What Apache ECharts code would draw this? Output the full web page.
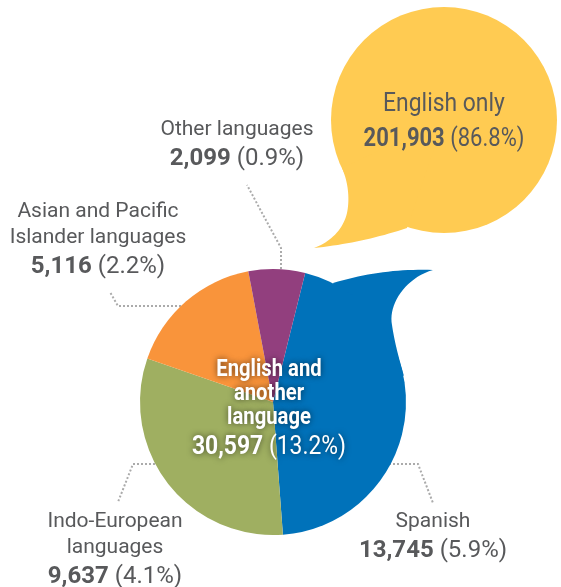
<!DOCTYPE html>
<html><head><meta charset="utf-8">
<script src="https://cdn.jsdelivr.net/npm/echarts@6/dist/echarts.min.js"></script>
<style>html,body{margin:0;padding:0;background:#fff}#c{width:561px;height:587px}</style>
</head><body><div id="c"></div>
<script>
// ---- data ----
const categories = ['Spanish', 'Indo-European\nlanguages', 'Asian and Pacific\nIslander languages', 'Other languages'];
const values = [13745, 9637, 5116, 2099];
const englishOnlyLabel = 'English only';
const englishOnlyValue = 201903;
const otherGroupLabel = ['English and', 'another', 'language'];

// ---- styles / layout ----
const colors = ['#0072BA', '#9FAF61', '#F9943B', '#923F7E'];
const yellow = '#FFCB52';
const textGray = '#58595b';
const FONT = 'Roboto';
const labelBoxes = [
  {x: 433, y: 537.5, line: [[385, 464], [418, 464], [433, 503]]},
  {x: 115, y: 550.5, line: [[167, 464], [133, 464], [118, 502]]},
  {x: 98,  y: 240.5, line: [[193, 306], [118, 306], [110, 292]]},
  {x: 237, y: 145.5, line: [[281, 277], [281, 248], [247, 185]]}
];

const groupTotal = values.reduce((a, b) => a + b, 0);
const grandTotal = groupTotal + englishOnlyValue;
const fmt = v => v.toLocaleString('en-US');
const pct = v => (v / grandTotal * 100).toFixed(1) + '%';

function cubic(p0, p1, p2, p3, n) {
  const pts = [];
  for (let i = 0; i <= n; i++) {
    const t = i / n, u = 1 - t;
    pts.push([
      u*u*u*p0[0] + 3*u*u*t*p1[0] + 3*u*t*t*p2[0] + t*t*t*p3[0],
      u*u*u*p0[1] + 3*u*u*t*p1[1] + 3*u*t*t*p2[1] + t*t*t*p3[1]
    ]);
  }
  return pts;
}
function quad(p0, p1, p2, n) {
  const pts = [];
  for (let i = 0; i <= n; i++) {
    const t = i / n, u = 1 - t;
    pts.push([u*u*p0[0] + 2*u*t*p1[0] + t*t*p2[0], u*u*p0[1] + 2*u*t*p1[1] + t*t*p2[1]]);
  }
  return pts;
}
const blueTail = [].concat(
  quad([333, 283], [383, 268], [433, 270], 20),
  cubic([433, 270], [405, 278], [388, 305], [392, 325], 20),
  cubic([392, 325], [395, 345], [400, 362], [404, 376], 20),
  [[350, 335]]
);
const yellowTail = [].concat(
  cubic([342, 168], [348, 182], [350, 198], [347, 213], 20),
  cubic([347, 213], [343, 230], [330, 242], [314, 248], 20),
  quad([314, 248], [362, 243], [407, 228], 20),
  [[444, 120]]
);

const chart = echarts.init(document.getElementById('c'), null, {renderer: 'canvas'});
const shadow = {textShadowColor: 'rgba(0,0,0,0.6)', textShadowBlur: 6};
chart.setOption({
  animation: false,
  graphic: {elements: [
    {type: 'circle', z: 0, silent: true, shape: {cx: 444, cy: 120, r: 113}, style: {fill: yellow}},
    {type: 'polygon', z: 0, silent: true, shape: {points: yellowTail}, style: {fill: yellow}},
    {type: 'polygon', z: 0, silent: true, shape: {points: blueTail}, style: {fill: colors[0]}},
    {type: 'text', z: 100, x: 444, y: 122, scaleX: 0.88, silent: true, style: {
      text: '{a|' + englishOnlyLabel + '}\n{b|' + fmt(englishOnlyValue) + '}{a2| (' + pct(englishOnlyValue) + ')}',
      align: 'center', verticalAlign: 'middle', fill: textGray,
      rich: {
        a: {fontSize: 26, fontFamily: FONT, fill: textGray, lineHeight: 35},
        a2: {fontSize: 25, fontFamily: FONT, fill: textGray, lineHeight: 35},
        b: {fontSize: 25, fontFamily: FONT, fontWeight: 'bold', fill: textGray, lineHeight: 35}
      }
    }},
    {type: 'text', z: 100, x: 269, y: 358, scaleX: 0.88, silent: true, style: Object.assign({
      text: otherGroupLabel.map(s => '{h|' + s + '}').join('\n') + '\n{b|' + fmt(groupTotal) + '}{p| (' + pct(groupTotal) + ')}',
      align: 'center', verticalAlign: 'top', fill: '#fff',
      rich: {
        h: Object.assign({fontSize: 23, fontFamily: FONT, fontWeight: 'bold', fill: '#fff', lineHeight: 24}, shadow),
        b: Object.assign({fontSize: 26, fontFamily: FONT, fontWeight: 'bold', fill: '#fff', lineHeight: 34}, shadow),
        p: Object.assign({fontSize: 26, fontFamily: FONT, fill: '#fff', lineHeight: 34}, shadow)
      }
    }, shadow)}
  ]},
  series: [{
    type: 'pie',
    center: [273, 402],
    radius: 133,
    startAngle: 76,
    clockwise: true,
    avoidLabelOverlap: false,
    silent: true,
    emphasis: {disabled: true},
    itemStyle: {borderWidth: 0},
    label: {
      show: true,
      position: 'outside',
      fontSize: 24,
      fontFamily: FONT,
      color: textGray,
      formatter: p => p.name.split('\n').map(s => '{n|' + s + '}').join('\n') +
        '\n{b|' + fmt(p.value) + '} {p|(' + pct(p.value) + ')}',
      rich: {
        n: {fontSize: 21, fontFamily: FONT, color: textGray, lineHeight: 26},
        b: {fontSize: 24, fontFamily: FONT, fontWeight: 'bold', color: textGray, lineHeight: 31},
        p: {fontSize: 24, fontFamily: FONT, color: textGray, lineHeight: 31}
      }
    },
    labelLine: {show: true, smooth: false, lineStyle: {type: 'dotted', width: 2, color: '#ababab'}},
    labelLayout: function (params) {
      const b = labelBoxes[params.dataIndex];
      return {x: b.x, y: b.y, align: 'center', verticalAlign: 'middle', labelLinePoints: b.line};
    },
    data: categories.map((c, i) => ({name: c, value: values[i], itemStyle: {color: colors[i]}}))
  }]
});
</script></body></html>
